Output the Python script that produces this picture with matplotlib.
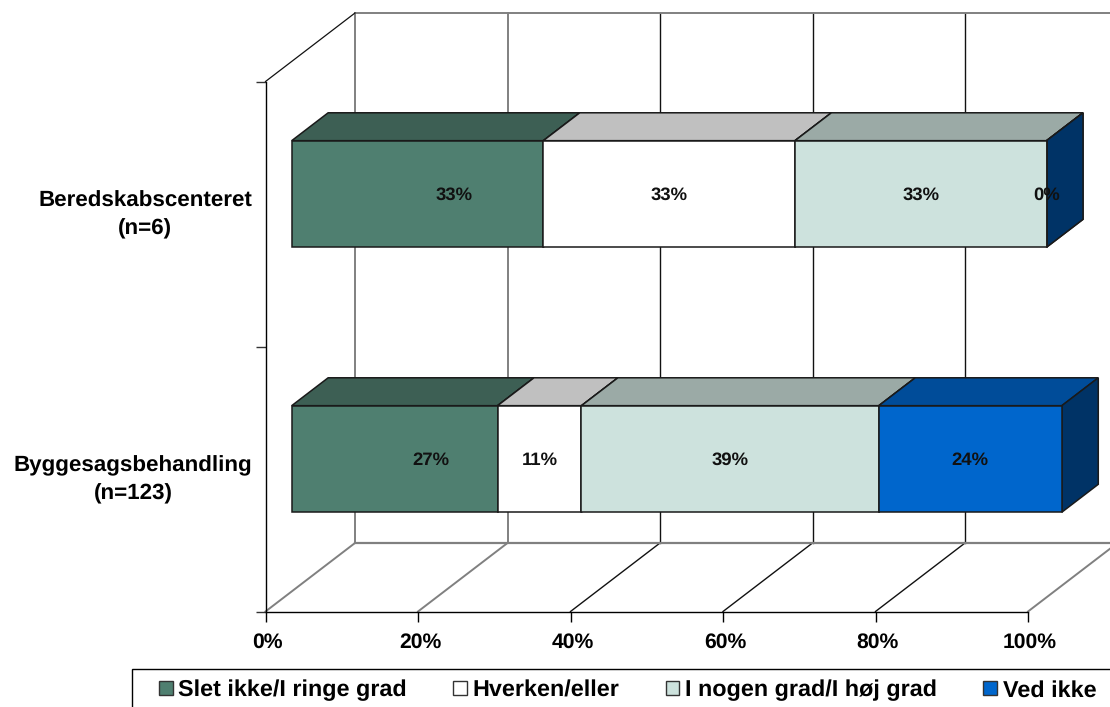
import matplotlib
matplotlib.use("Agg")
import matplotlib.pyplot as plt
from matplotlib.patches import Polygon, Patch, Rectangle
from matplotlib.transforms import Affine2D

plt.rcParams["font.family"] = ["Liberation Sans", "DejaVu Sans"]
plt.rcParams["font.weight"] = "bold"
plt.rcParams["text.hinting"] = "no_hinting"

# Data (bottom category first)
categories = ["Byggesagsbehandling\n(n=123)", "Beredskabscenteret\n(n=6)"]
series_names = ["Slet ikke/I ringe grad", "Hverken/eller", "I nogen grad/I høj grad", "Ved ikke"]
slet_ikke = [27, 33]
hverken = [11, 33]
i_nogen = [39, 33]
ved_ikke = [24, 0]
x_ticks = [0, 20, 40, 60, 80, 100]

series = [slet_ikke, hverken, i_nogen, ved_ikke]
front_colors = ["#4F7F70", "#FFFFFF", "#CDE2DD", "#0066CC"]
top_colors = ["#3D5F54", "#C0C0C0", "#9BAAA6", "#004C99"]
side_colors = ["#2E4A41", "#A0A0A0", "#7F8C89", "#003366"]

W, H = 1110, 707
fig = plt.figure(figsize=(W / 100, H / 100), dpi=100, facecolor="white")
x0_px, x1_px, y0_px, y1_px = 265.5, 1028.0, 611.5, 81.5
ax = fig.add_axes([x0_px / W, 1 - y0_px / H, (x1_px - x0_px) / W, (y0_px - y1_px) / H])
ax.set_xlim(0, 100)
ax.set_ylim(0, 2)
ax.patch.set_visible(False)

# Oblique depth vector of the plot box, in data units
depth_x = 89.5 / 7.625
depth_y = 68.5 / 265.0
bar_near, bar_far = 0.293, 0.70
bar_height = 0.402

GRAY = "#808080"
DARK = "#111111"

# Back wall, floor and side wall
for i, t in enumerate(x_ticks):
    c, lw = (GRAY, 1.4) if i < 2 or i == 5 else (DARK, 1.0)
    ax.plot([t + depth_x] * 2, [depth_y, 2 + depth_y], color=c, lw=lw, clip_on=False, zorder=1)
    ax.plot([t, t + depth_x], [0, depth_y], color=c, lw=lw, clip_on=False, zorder=1)
ax.plot([depth_x, 100 + depth_x], [depth_y] * 2, color=GRAY, lw=1.6, clip_on=False, zorder=1)
ax.plot([depth_x, 100 + depth_x], [2 + depth_y] * 2, color=GRAY, lw=1.4, clip_on=False, zorder=1)
ax.plot([0, depth_x], [2, 2 + depth_y], color=DARK, lw=0.9, clip_on=False, zorder=1)

# Stacked 3D bars
edge = "#1A1A1A"
for c, name in enumerate(categories):
    yc = c + 0.5 + bar_near * depth_y
    ybot, ytop = yc - bar_height / 2, yc + bar_height / 2
    dx = (bar_far - bar_near) * depth_x
    dy = (bar_far - bar_near) * depth_y
    left = bar_near * depth_x
    for s, values in enumerate(series):
        v = values[c]
        right = left + v
        ax.add_patch(Polygon([(left, ytop), (right, ytop), (right + dx, ytop + dy), (left + dx, ytop + dy)],
                             closed=True, fc=top_colors[s], ec=edge, lw=1.1, clip_on=False, zorder=3))
        ax.add_patch(Polygon([(right, ybot), (right + dx, ybot + dy), (right + dx, ytop + dy), (right, ytop)],
                             closed=True, fc=side_colors[s], ec=edge, lw=1.1, clip_on=False, zorder=3))
        ax.barh(yc, v, left=left, height=bar_height, color=front_colors[s], edgecolor=edge,
                linewidth=1.1, clip_on=False, zorder=4)
        # The first series carries its label further right, over the bar depth
        shift = dx if s == 0 else 0
        ax.text(left + v / 2 + shift, yc - 0.003, f"{v}%", ha="center", va="center",
                fontsize=13.3, fontweight="bold", color="#111111", zorder=6)
        left = right

# Axes, ticks and labels
for side in ("top", "right"):
    ax.spines[side].set_visible(False)
for side in ("left", "bottom"):
    ax.spines[side].set_color("black")
    ax.spines[side].set_linewidth(1.0)
ax.set_xticks(x_ticks)
ax.set_xticklabels([f"{t}%" for t in x_ticks], fontsize=15.2, fontweight="bold")
ax.tick_params(axis="x", length=7.2, width=1.0, pad=8.0, colors="black")
for lab in ax.get_xticklabels():
    lab.set_transform(lab.get_transform() + Affine2D().translate(2, 0))
ax.set_yticks([0, 1, 2])
ax.set_yticklabels(["", "", ""])
ax.tick_params(axis="y", which="major", length=7.2, width=1.0, color="#333333")
ax.set_yticks([0.519, 1.519], minor=True)
ax.set_yticklabels(categories, minor=True, fontsize=16.1, fontweight="bold", multialignment="center",
                   linespacing=1.47)
ax.tick_params(axis="y", which="minor", length=0, pad=9.5)

# Legend box runs past the right and bottom edges of the figure
fig.add_artist(Rectangle((131.5 / W, 1 - 735 / H), 1100 / W, (735 - 668.5) / H, transform=fig.transFigure,
                         fc="white", ec="black", lw=1.0, zorder=5))
handles = [Patch(facecolor=fc, edgecolor="#333333", linewidth=1.0) for fc in front_colors]
fs = 16.8
px = fs * 100 / 72
leg = fig.legend(handles, series_names, ncol=4, loc="center left",
                 bbox_to_anchor=(159 / W, 1 - 690.5 / H), bbox_transform=fig.transFigure,
                 frameon=False, prop={"size": fs, "weight": "bold"},
                 handlelength=13.5 / px, handleheight=13.5 / px,
                 handletextpad=6 / px, columnspacing=46 / px, borderpad=0, borderaxespad=0)
leg.set_zorder(6)
fig.savefig("out.png", dpi=100, facecolor="white")
